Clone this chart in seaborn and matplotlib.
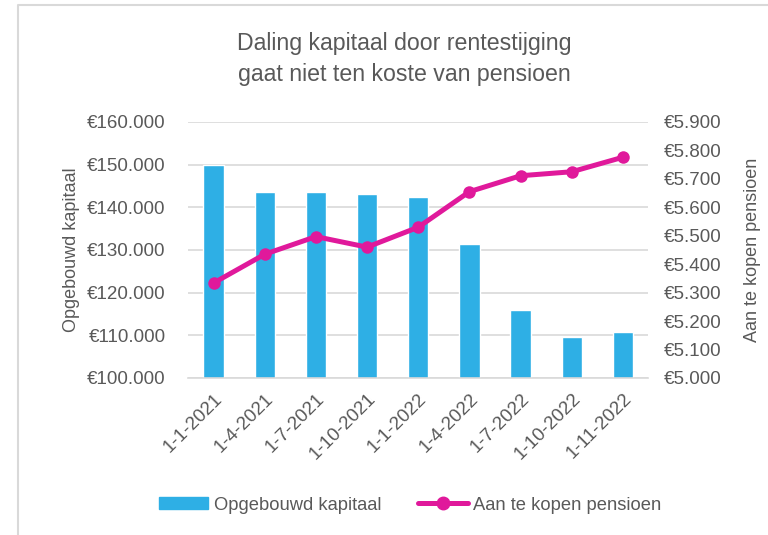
import numpy as np
import pandas as pd
import matplotlib
matplotlib.use("Agg")
import matplotlib.pyplot as plt
import seaborn as sns
from matplotlib.ticker import FuncFormatter
from matplotlib.lines import Line2D
from matplotlib.patches import Patch

# data
dates = ["1-1-2021", "1-4-2021", "1-7-2021", "1-10-2021", "1-1-2022",
         "1-4-2022", "1-7-2022", "1-10-2022", "1-11-2022"]
kapitaal = [150000, 143600, 143600, 143100, 142500, 131400, 116000, 109600, 110700]
pensioen = [5334, 5435, 5497, 5460, 5530, 5655, 5711, 5725, 5776]

BAR = "#2EAFE5"
LINE = "#E0199B"
GREY = "#595959"


def euro(v, pos=None):
    return "€" + f"{int(round(v)):,}".replace(",", ".")


def main():
    sns.set_style("white")
    plt.rcParams['font.family'] = ['Liberation Sans', 'DejaVu Sans']

    df = pd.DataFrame({"datum": dates, "kapitaal": kapitaal,
                       "pensioen": pensioen, "pos": np.arange(len(dates))})

    fig = plt.figure(figsize=(7.68, 5.35), dpi=100)
    ax = fig.add_axes([0.2448, 0.2935, 0.5996, 0.4785])

    sns.barplot(data=df, x="datum", y="kapitaal", color=BAR, width=0.4,
                saturation=1, ax=ax, zorder=2)
    ax.set_ylim(100000, 160000)
    ax.set_yticks(np.arange(100000, 160001, 10000))
    ax.yaxis.set_major_formatter(FuncFormatter(euro))
    ax.grid(axis="y", color="#D9D9D9", linewidth=1.2, zorder=0)
    ax.set_axisbelow(True)
    for s in ["top", "right", "left"]:
        ax.spines[s].set_visible(False)
    ax.spines["bottom"].set_color("#D9D9D9")
    ax.spines["bottom"].set_linewidth(1.2)
    ax.set_xlabel("")
    ax.set_ylabel("Opgebouwd kapitaal", color=GREY, fontsize=13, labelpad=5)
    ax.tick_params(axis="y", length=0, colors=GREY, labelsize=13.5, pad=16)
    ax.tick_params(axis="x", length=0, colors=GREY, labelsize=13.5, pad=9)
    ax.set_xlim(-0.5, len(dates) - 0.5)
    for lab in ax.get_xticklabels():
        lab.set_rotation(45)
        lab.set_ha("right")
        lab.set_rotation_mode("anchor")

    ax2 = ax.twinx()
    sns.lineplot(data=df, x="pos", y="pensioen", color=LINE, linewidth=3.6,
                 marker="o", markersize=9, markeredgewidth=0, ax=ax2, zorder=3)
    ax2.set_ylim(5000, 5900)
    ax2.set_yticks(np.arange(5000, 5901, 100))
    ax2.yaxis.set_major_formatter(FuncFormatter(euro))
    for s in ["top", "right", "left", "bottom"]:
        ax2.spines[s].set_visible(False)
    ax2.set_xlabel("")
    ax2.set_ylabel("Aan te kopen pensioen", color=GREY, fontsize=13,
                   rotation=90, labelpad=16)
    ax2.tick_params(axis="y", length=0, colors=GREY, labelsize=13.5, pad=11)
    ax2.set_xlim(-0.5, len(dates) - 0.5)

    fig.suptitle("Daling kapitaal door rentestijging\ngaat niet ten koste van pensioen",
                 x=0.526, y=0.94, fontsize=16.7, color=GREY, linespacing=1.45)

    handles = [Patch(color=BAR, label="Opgebouwd kapitaal"),
               Line2D([0], [0], color=LINE, linewidth=3.6, marker="o",
                      markersize=9, label="Aan te kopen pensioen")]
    fig.legend(handles=handles, loc="center", bbox_to_anchor=(0.534, 0.056),
               ncol=2, frameon=False, fontsize=13.2, labelcolor=GREY,
               handlelength=2.7, handleheight=0.6, columnspacing=2.0,
               handletextpad=0.3)

    # chart frame (only top and left edges visible in the screenshot)
    fig.add_artist(Line2D([0.0234, 0.0234, 1.0], [0.0, 0.9907, 0.9907],
                          transform=fig.transFigure, color="#D9D9D9",
                          linewidth=1.5))

    fig.savefig("out.png", dpi=100)


if __name__ == "__main__":
    main()
